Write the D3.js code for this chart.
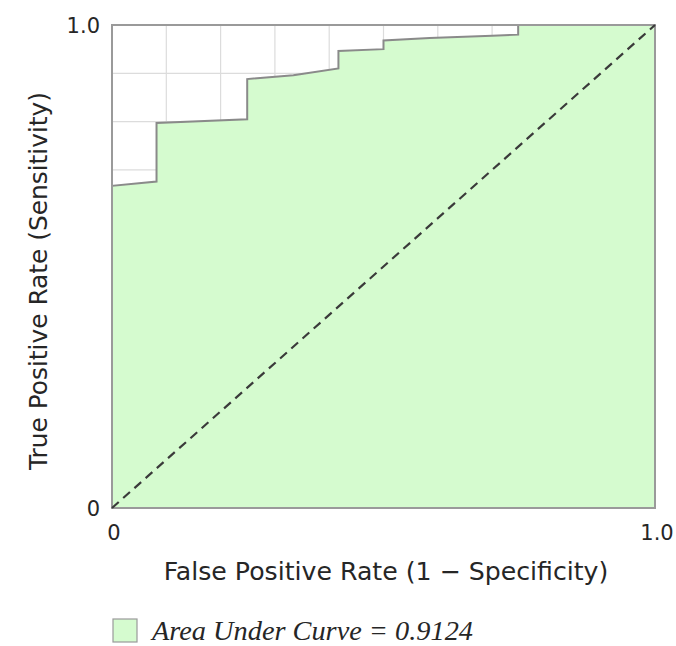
<!DOCTYPE html>
<html lang="en">
	<head>
		<meta charset="utf-8">
		<title>ROC curve</title>
		<script type="text/javascript" src="https://cdn.jsdelivr.net/npm/d3@7"></script>
		<style type="text/css">
			body { margin: 0; background: #fff; }
			text { font-family: "DejaVu Sans", "Open Sans", sans-serif; fill: #262626; }
		</style>
	</head>
	<body>
		<script type="text/javascript">

			// ROC points
			var fpr = [0, 0, 0.082, 0.082, 0.249, 0.249, 0.334, 0.417, 0.417, 0.5, 0.5, 0.585, 0.70, 0.748, 0.748, 1]
			var tpr = [0, 0.667, 0.676, 0.797, 0.805, 0.888, 0.896, 0.910, 0.946, 0.950, 0.968, 0.973, 0.978, 0.980, 1, 1]
			var xTicks = [0, 1], yTicks = [0, 1]
			var tickText = function(d) { return d == 0 ? "0" : "1.0" }
			var gridVals = d3.range(1, 10).map(function(d) { return d / 10 })
			var auc = "0.9124"

			var w = 676, h = 646
			var mLeft = 112, mRight = 655, mTop = 25, mBottom = 508

			var svg = d3.select("body").append("svg").attr("width", w).attr("height", h)

			var x = d3.scaleLinear().domain([0, 1]).range([mLeft, mRight])
			var y = d3.scaleLinear().domain([0, 1]).range([mBottom, mTop])

			var pts = fpr.map(function(d, i) { return [d, tpr[i]] })

			// squeeze / stretch a text to the width seen in the picture
			var fit = function(t, width) {
				var fs = parseFloat(t.attr("font-size"))
				var len = t.node().getComputedTextLength()
				t.attr("font-size", (fs * width / len).toFixed(2) + "px")
			}

			// grid (only shows above the curve)
			svg.selectAll(".vgrid")
				.data(gridVals)
				.enter()
				.append("line")
				.attr("x1", function(d) { return x(d) })
				.attr("x2", function(d) { return x(d) })
				.attr("y1", mTop)
				.attr("y2", mBottom)
				.attr("stroke", "#dcdcdc")
				.attr("stroke-width", 1.2)

			svg.selectAll(".hgrid")
				.data(gridVals)
				.enter()
				.append("line")
				.attr("y1", function(d) { return y(d) })
				.attr("y2", function(d) { return y(d) })
				.attr("x1", mLeft)
				.attr("x2", mRight)
				.attr("stroke", "#dcdcdc")
				.attr("stroke-width", 1.2)

			var area = d3.area()
				.x(function(d) { return x(d[0]) })
				.y0(y(0))
				.y1(function(d) { return y(d[1]) })

			svg.append("path")
				.datum(pts)
				.attr("d", area)
				.attr("fill", "#d5fbcf")

			svg.append("path")
				.datum(pts)
				.attr("d", d3.line().x(function(d) { return x(d[0]) }).y(function(d) { return y(d[1]) }))
				.attr("fill", "none")
				.attr("stroke", "#8a8a8a")
				.attr("stroke-width", 2)

			// frame
			svg.append("rect")
				.attr("x", mLeft)
				.attr("y", mTop)
				.attr("width", mRight - mLeft)
				.attr("height", mBottom - mTop)
				.attr("fill", "none")
				.attr("stroke", "#9a9a9a")
				.attr("stroke-width", 2)

			// chance diagonal
			svg.append("line")
				.attr("x1", x(0)).attr("y1", y(0))
				.attr("x2", x(1)).attr("y2", y(1))
				.attr("stroke", "#3a3a3a")
				.attr("stroke-width", 2.2)
				.attr("stroke-dasharray", "9,6")

			// tick labels
			svg.selectAll(".ytick")
				.data(yTicks)
				.enter()
				.append("text")
				.attr("x", mLeft - 12)
				.attr("y", function(d) { return y(d) + 8 })
				.attr("text-anchor", "end")
				.attr("font-size", "21px")
				.text(tickText)

			svg.selectAll(".xtick")
				.data(xTicks)
				.enter()
				.append("text")
				.attr("x", function(d) { return x(d) + 2 })
				.attr("y", mBottom + 32)
				.attr("text-anchor", "middle")
				.attr("font-size", "21px")
				.text(tickText)

			// axis titles
			var xt = svg.append("text")
				.attr("x", 386)
				.attr("y", 580)
				.attr("text-anchor", "middle")
				.attr("font-size", "24px")
				.text("False Positive Rate (1 \u2212 Specificity)")
			fit(xt, 445)

			var yt = svg.append("text")
				.attr("transform", "translate(47,281) rotate(-90)")
				.attr("text-anchor", "middle")
				.attr("font-size", "24px")
				.text("True Positive Rate (Sensitivity)")
			fit(yt, 378)

			// legend
			svg.append("rect")
				.attr("x", 113)
				.attr("y", 619)
				.attr("width", 24)
				.attr("height", 23)
				.attr("fill", "#d5fbcf")
				.attr("stroke", "#9a9a9a")
				.attr("stroke-width", 1.2)

			var lt = svg.append("text")
				.attr("x", 152)
				.attr("y", 640)
				.attr("font-size", "26px")
				.attr("font-style", "italic")
				.style("font-family", "'Liberation Serif', serif")
				.text("Area Under Curve = " + auc)
			fit(lt, 321)

		</script>
	</body>
</html>
